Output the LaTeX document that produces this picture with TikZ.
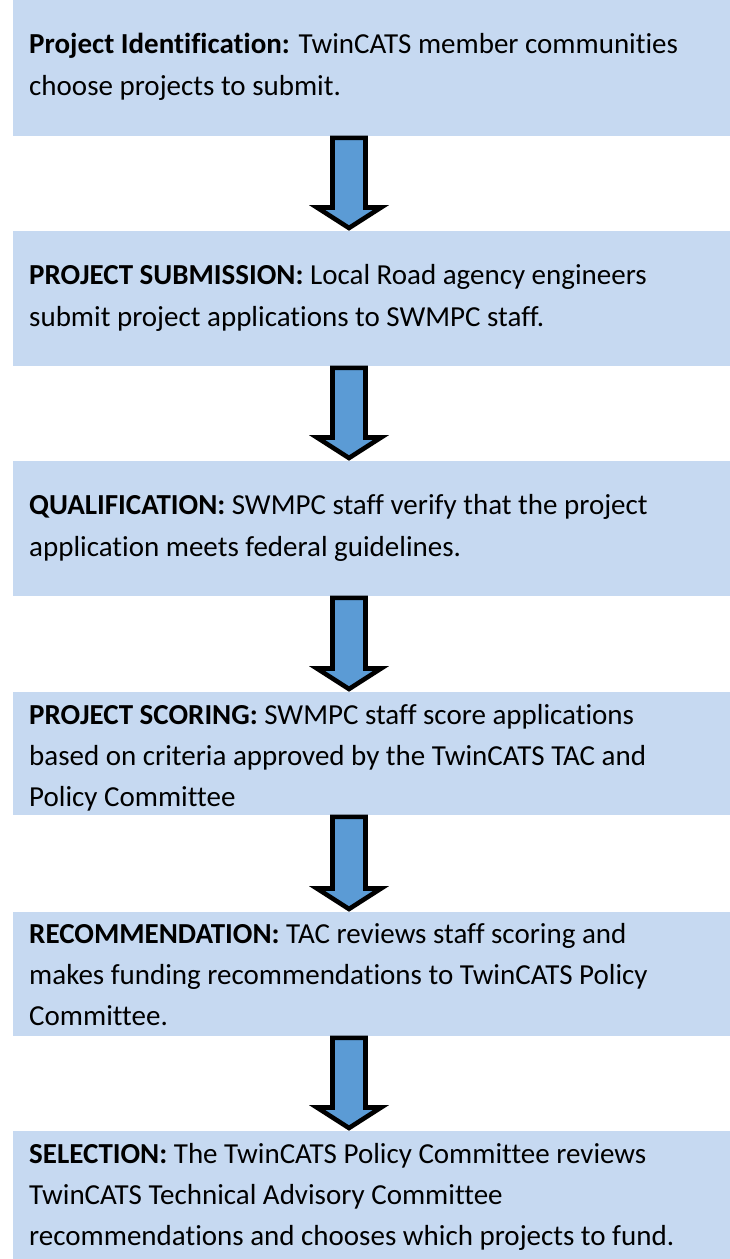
\documentclass[tikz,border=0pt]{standalone}
\usepackage{fontspec}
\setmainfont{Carlito}[Ligatures={NoCommon}]
\usetikzlibrary{calc}
\definecolor{boxblue}{HTML}{C6D9F1}
\definecolor{arrowblue}{HTML}{5B9BD5}
\tikzset{
  stepbox/.style={fill=boxblue, draw=none, inner sep=0pt, anchor=north west, minimum width=717pt},
  txtline/.style={anchor=base west, inner sep=0pt, font=\fontsize{29}{41}\selectfont, text=black},
  blockarrow/.style={fill=arrowblue, draw=black, line width=4.6pt, line join=miter},
}
\newcommand\flowarrow[2]{%
  \draw[blockarrow]
    ($(#1.south -| ax)+(-16.5,1.5)$) -- ($(#1.south -| ax)+(16.5,1.5)$)
    -- ($(#2.north -| ax)+(16.5,-23.5)$) -- ($(#2.north -| ax)+(32,-23.5)$)
    -- ($(#2.north -| ax)+(0,-3)$)
    -- ($(#2.north -| ax)+(-32,-23.5)$) -- ($(#2.north -| ax)+(-16.5,-23.5)$)
    -- cycle;}
\begin{document}
\begin{tikzpicture}[x=1pt,y=-1pt]
\useasboundingbox (0,0) rectangle (730,1259);
\coordinate (ax) at (349,0);
\node[stepbox, minimum height=136pt] (box1) at (13,0) {};
\node[stepbox, minimum height=135pt] (box2) at (13,231) {};
\node[stepbox, minimum height=135pt] (box3) at (13,461) {};
\node[stepbox, minimum height=123pt] (box4) at (13,692) {};
\node[stepbox, minimum height=124pt] (box5) at (13,912) {};
\node[stepbox, minimum height=128pt] (box6) at (13,1131) {};

\node[txtline] (t1a) at ($(box1.north west)+(16,53)$) {\textbf{Project Identification:} TwinCATS member communities};
\node[txtline] (t1b) at ($(box1.north west)+(16,95)$) {choose projects to submit.};

\node[txtline] (t2a) at ($(box2.north west)+(16,53)$) {\textbf{PROJECT SUBMISSION:} Local Road agency engineers};
\node[txtline] (t2b) at ($(box2.north west)+(16,95)$) {submit project applications to SWMPC staff.};

\node[txtline] (t3a) at ($(box3.north west)+(16,53)$) {\textbf{QUALIFICATION:} SWMPC staff verify that the project};
\node[txtline] (t3b) at ($(box3.north west)+(16,95)$) {application meets federal guidelines.};

\node[txtline] (t4a) at ($(box4.north west)+(16,32)$) {\textbf{PROJECT SCORING:} SWMPC staff score applications};
\node[txtline] (t4b) at ($(box4.north west)+(16,73)$) {based on criteria approved by the TwinCATS TAC and};
\node[txtline] (t4c) at ($(box4.north west)+(16,114)$) {Policy Committee};

\node[txtline] (t5a) at ($(box5.north west)+(16,31)$) {\textbf{RECOMMENDATION:} TAC reviews staff scoring and};
\node[txtline] (t5b) at ($(box5.north west)+(16,72)$) {makes funding recommendations to TwinCATS Policy};
\node[txtline] (t5c) at ($(box5.north west)+(16,113)$) {Committee.};

\node[txtline] (t6a) at ($(box6.north west)+(16,32)$) {\textbf{SELECTION:} The TwinCATS Policy Committee reviews};
\node[txtline] (t6b) at ($(box6.north west)+(16,73)$) {TwinCATS Technical Advisory Committee};
\node[txtline] (t6c) at ($(box6.north west)+(16,114)$) {recommendations and chooses which projects to fund.};

\flowarrow{box1}{box2}
\flowarrow{box2}{box3}
\flowarrow{box3}{box4}
\flowarrow{box4}{box5}
\flowarrow{box5}{box6}
\end{tikzpicture}
\end{document}
